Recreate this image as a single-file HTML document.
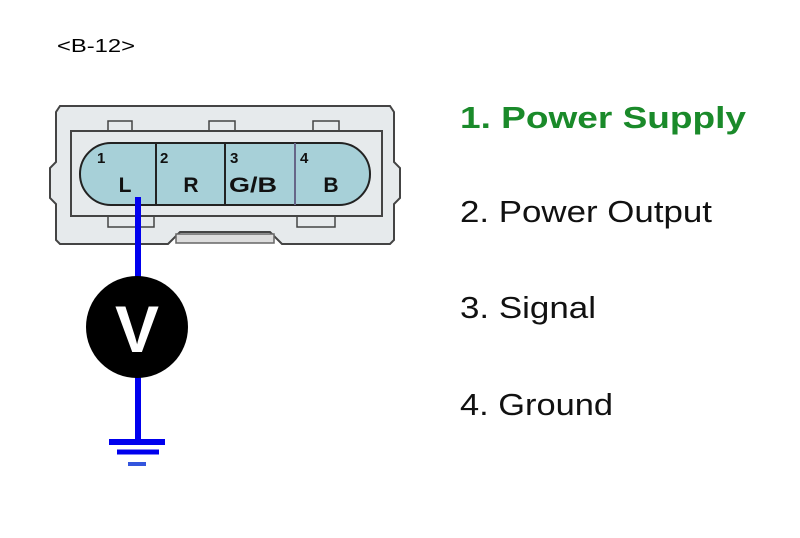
<!DOCTYPE html>
<html><head><style>
body{margin:0;background:#fff;}
</style></head><body>
<svg width="800" height="533" xmlns="http://www.w3.org/2000/svg" font-family="Liberation Sans, Arial, sans-serif">
<rect width="800" height="533" fill="#fff"/>
<text x="57" y="52" font-size="18" fill="#000" textLength="78" lengthAdjust="spacingAndGlyphs">&lt;B-12&gt;</text>
<!-- connector body -->
<path d="M60,106 H390 L394,112 V162 L400,168 V198 L394,204 V240 L390,244 H282 L270,232 H180 L168,244 H60 L56,240 V204 L50,198 V168 L56,162 V112 Z" fill="#e6eaec" stroke="#444" stroke-width="2"/>
<rect x="108" y="121" width="24" height="12" fill="#e6eaec" stroke="#444" stroke-width="1.5"/>
<rect x="209" y="121" width="26" height="12" fill="#e6eaec" stroke="#444" stroke-width="1.5"/>
<rect x="313" y="121" width="26" height="12" fill="#e6eaec" stroke="#444" stroke-width="1.5"/>
<rect x="108" y="214" width="46" height="13" fill="#e6eaec" stroke="#444" stroke-width="1.5"/>
<rect x="297" y="214" width="38" height="13" fill="#e6eaec" stroke="#444" stroke-width="1.5"/>
<rect x="71" y="131" width="311" height="85" fill="#e6eaec" stroke="#444" stroke-width="2"/>
<rect x="176" y="234" width="98" height="9" fill="#ddd" stroke="#666" stroke-width="1.5"/>
<!-- pill -->
<rect x="80" y="143" width="290" height="62" rx="31" fill="#a7d0d8" stroke="#222" stroke-width="2"/>
<line x1="156" y1="143" x2="156" y2="205" stroke="#222" stroke-width="2"/>
<line x1="225" y1="143" x2="225" y2="205" stroke="#222" stroke-width="2"/>
<line x1="295" y1="143" x2="295" y2="205" stroke="#668" stroke-width="2"/>
<g font-weight="bold" fill="#111">
<text x="97" y="163" font-size="15">1</text>
<text x="160" y="163" font-size="15">2</text>
<text x="230" y="163" font-size="15">3</text>
<text x="300" y="163" font-size="15">4</text>
<text x="125" y="192" font-size="21" text-anchor="middle">L</text>
<text x="191" y="192" font-size="21" text-anchor="middle">R</text>
<text x="229" y="192" font-size="21" textLength="48" lengthAdjust="spacingAndGlyphs">G/B</text>
<text x="331" y="192" font-size="21" text-anchor="middle">B</text>
</g>
<!-- wire -->
<line x1="138" y1="197" x2="138" y2="442" stroke="#0000ee" stroke-width="6"/>
<circle cx="137" cy="327" r="51" fill="#000"/>
<text x="137" y="352" font-size="66" font-weight="bold" fill="#fff" text-anchor="middle">V</text>
<line x1="109" y1="442" x2="165" y2="442" stroke="#0000ee" stroke-width="6"/>
<line x1="117" y1="452" x2="159" y2="452" stroke="#0000ee" stroke-width="5"/>
<line x1="128" y1="464" x2="146" y2="464" stroke="#3355dd" stroke-width="4"/>
<!-- labels -->
<text x="460" y="128" font-size="31" font-weight="bold" fill="#1a8a2a" textLength="286" lengthAdjust="spacingAndGlyphs">1. Power Supply</text>
<text x="460" y="222" font-size="31" fill="#111" textLength="252" lengthAdjust="spacingAndGlyphs">2. Power Output</text>
<text x="460" y="318" font-size="31" fill="#111" textLength="136" lengthAdjust="spacingAndGlyphs">3. Signal</text>
<text x="460" y="415" font-size="31" fill="#111" textLength="153" lengthAdjust="spacingAndGlyphs">4. Ground</text>
</svg>
</body></html>
